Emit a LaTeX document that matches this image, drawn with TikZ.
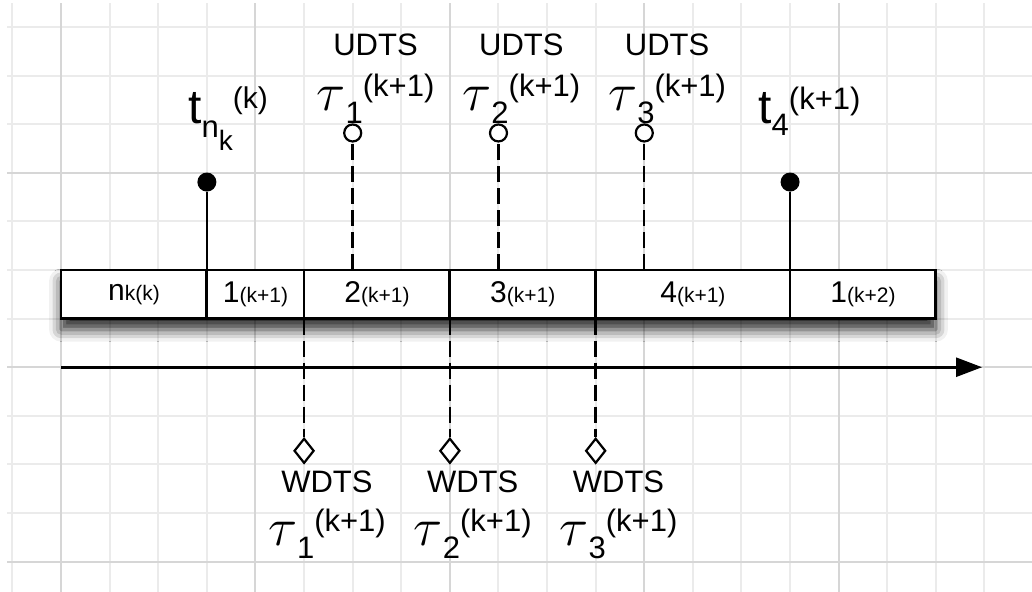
\documentclass[tikz,border=0pt]{standalone}
\usepackage{fix-cm}
\usepackage{fontspec}
\setmainfont{Liberation Sans}
\usetikzlibrary{arrows.meta,shapes.geometric,shadows.blur,positioning}

\newcommand{\fs}[1]{\fontsize{#1}{#1}\selectfont}
\newcommand{\cellt}[2]{{\fs{15}#1}{\fs{10.5}#2}}
\newcommand{\taut}[1]{{\fs{27}$\tau$}\raisebox{-6.5pt}{\fs{15.5}#1}\raisebox{7pt}{\fs{15.5}(k+1)}}

\begin{document}
\begin{tikzpicture}[x=24.3pt, y=24.3pt,
	minor/.style={draw=black!8, line width=1pt},
	major/.style={draw=black!16, line width=1pt},
	cell/.style={draw, line width=1.4pt, fill=white, minimum height=24.3pt, inner sep=0pt, outer sep=0pt},
	stem/.style={line width=1.2pt},
	dashstem/.style={stem, dash pattern=on 8pt off 3pt},
	dot/.style={circle, fill, inner sep=0pt, minimum size=9.5pt},
	hollow/.style={circle, draw, line width=1.1pt, fill=white, inner sep=0pt, minimum size=8.5pt},
	wmark/.style={diamond, draw, line width=1.1pt, fill=white, inner sep=0pt, minimum width=10pt, minimum height=12.5pt},
	tag/.style={inner sep=0pt, font=\fs{15.5}}
	]
	\useasboundingbox (-1.257,-4.605) rectangle (19.978,7.556);
	% grid
	\foreach \x in {-1,...,19} \draw[minor] (\x,-4.7) -- (\x,7.49);
	\foreach \y in {-4,...,7} \draw[minor] (-1.11,\y) -- (20.1,\y);
	\foreach \x in {0,4,...,16} \draw[major] (\x,-4.7) -- (\x,7.49);
	\foreach \y in {-4,0,4} \draw[major] (-1.11,\y) -- (20.1,\y);
	% time axis
	\coordinate (a0) at (0,0);
	\coordinate (a1) at (18.95,0);
	\draw[line width=1.3pt, -{Triangle[length=13pt, width=9.5pt, fill=black]}] (a0) -- (a1);
	% slots
	\begin{scope}
		\fill[white, blur shadow={shadow xshift=0pt, shadow yshift=-5.5pt, shadow blur radius=6pt, shadow opacity=85}] (0,1) rectangle (18,2);
	\end{scope}
	\foreach \a/\b/\n/\s [count=\i] in {0/3/n/k(k), 3/5/1/(k+1), 5/8/2/(k+1), 8/11/3/(k+1), 11/15/4/(k+1), 15/18/1/(k+2)}
		\node[cell, minimum width={(\b-\a)*24.3pt}] (c\i) at ({(\a+\b)/2},1.5) {\cellt{\n}{\s}};
	% boundaries
	\foreach \x/\n in {3/1, 15/2} {
		\node[dot] (d\n) at (\x,3.81) {};
		\coordinate (b\n) at (\x,2);
		\draw[stem] (d\n) -- (b\n);
	}
	\node[inner sep=0pt, anchor=base west] (tn) at (2.61,5.02) {{\fs{24}t}\raisebox{-7pt}{\fs{15.5}n\raisebox{-6.5pt}{\fs{14}k}}\raisebox{7.5pt}{\fs{15}(k)}};
	\node[inner sep=0pt, anchor=base west] (t4) at (14.34,5.02) {{\fs{24}t}\raisebox{-6pt}{\fs{15.5}4}\raisebox{7pt}{\fs{15.5}(k+1)}};
	% UDTS
	\foreach \x/\n in {6/1, 9/2, 12/3} {
		\node[hollow] (o\n) at (\x,4.82) {};
		\coordinate (u\n) at (\x,2);
		\draw[dashstem] (u\n) -- (o\n);
		\node[tag, anchor=base] (udts\n) at (\x+0.47,6.42) {UDTS};
		\node[inner sep=0pt, anchor=base] (ut\n) at (\x+0.47,5.29) {\taut{\n}};
	}
	% WDTS
	\foreach \x/\n in {5/1, 8/2, 11/3} {
		\coordinate (l\n) at (\x,1);
		\node[wmark] (w\n) at (\x,-1.72) {};
		\draw[dashstem] (l\n) -- (w\n);
		\node[tag, anchor=base] (wdts\n) at (\x+0.47,-2.58) {WDTS};
		\node[inner sep=0pt, anchor=base] (wt\n) at (\x+0.47,-3.66) {\taut{\n}};
	}
\end{tikzpicture}
\end{document}
